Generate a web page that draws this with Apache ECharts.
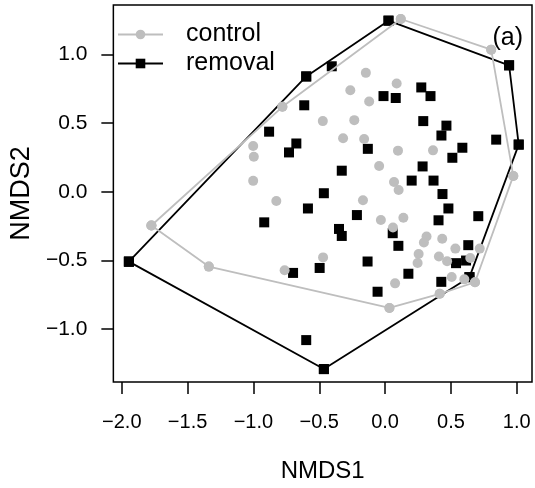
<!DOCTYPE html>
<html>
<head>
<meta charset="utf-8">
<script src="https://cdn.jsdelivr.net/npm/echarts@6/dist/echarts.min.js"></script>
<style>
  html, body { margin: 0; padding: 0; background: #fff; }
  #chart { width: 535px; height: 488px; }
</style>
</head>
<body>
<div id="chart"></div>
<script>
// NMDS scores
const controlX = [0.119, 0.806, -0.146, 0.088, -0.264, -0.121, -0.780, -0.473, -0.234, -0.319,
  -0.159, -1.002, -0.997, 0.098, 0.364, -0.045, 0.974, -1.002, 0.068, 0.103,
  -0.826, -0.168, -0.032, 0.139, 0.060, -1.775, 0.315, 0.295, 0.434, 0.534,
  0.719, -0.471, 0.255, 0.247, 0.409, 0.471, 0.647, -1.339, -0.763, 0.506,
  0.602, 0.683, 0.076, 0.415, 0.033]
const controlY = [1.258, 1.035, 0.866, 0.789, 0.739, 0.657, 0.619, 0.515, 0.522, 0.390,
  0.385, 0.334, 0.255, 0.300, 0.302, 0.188, 0.116, 0.080, 0.072, 0.014,
  -0.066, -0.061, -0.205, -0.188, -0.260, -0.245, -0.325, -0.368, -0.341, -0.413,
  -0.413, -0.477, -0.453, -0.518, -0.471, -0.505, -0.482, -0.544, -0.570, -0.620,
  -0.637, -0.658, -0.666, -0.742, -0.845]

const removalX = [0.026, 0.942, -0.405, -0.599, 0.275, 0.345, -0.012, 0.081, -0.614, -0.881,
  -0.674, -0.730, 0.290, 0.466, 0.428, 0.844, 1.015, -0.131, 0.587, 0.511,
  -0.329, 0.285, 0.202, 0.368, -0.465, 0.436, -0.586, 0.481, -0.214, 0.708,
  0.406, -0.350, -0.329, 0.058, 0.101, 0.632, -0.918, -1.946, -0.699, -0.497,
  -0.133, 0.539, 0.615, 0.177, 0.641, 0.427, -0.057, -0.599, -0.465]
const removalY = [1.246, 0.921, 0.914, 0.840, 0.760, 0.697, 0.697, 0.683, 0.630, 0.438,
  0.352, 0.287, 0.515, 0.482, 0.410, 0.380, 0.344, 0.313, 0.321, 0.248,
  0.154, 0.185, 0.082, 0.082, -0.010, -0.016, -0.121, -0.121, -0.169, -0.177,
  -0.207, -0.270, -0.321, -0.301, -0.393, -0.388, -0.222, -0.508, -0.590, -0.554,
  -0.507, -0.519, -0.500, -0.596, -0.621, -0.655, -0.727, -1.079, -1.290]

const xTicks = [-2, -1.5, -1, -0.5, 0, 0.5, 1]
const xTickLabels = ['\u22122.0', '\u22121.5', '\u22121.0', '\u22120.5', '0.0', '0.5', '1.0']
const yTicks = [-1, -0.5, 0, 0.5, 1]
const yTickLabels = ['\u22121.0', '\u22120.5', '0.0', '0.5', '1.0']

const GREY = '#bebebe'
const FONT = 'Liberation Sans, Arial, Helvetica, sans-serif'

function zip(xs, ys) { return xs.map((x, i) => [x, ys[i]]) }

// convex hull (monotone chain), closed ring
function hull(pts) {
  const p = [...pts].sort((a, b) => a[0] - b[0] || a[1] - b[1])
  const cross = (o, a, b) => (a[0] - o[0]) * (b[1] - o[1]) - (a[1] - o[1]) * (b[0] - o[0])
  const lower = [], upper = []
  for (const q of p) {
    while (lower.length >= 2 && cross(lower[lower.length - 2], lower[lower.length - 1], q) <= 0) lower.pop()
    lower.push(q)
  }
  for (let i = p.length - 1; i >= 0; i--) {
    const q = p[i]
    while (upper.length >= 2 && cross(upper[upper.length - 2], upper[upper.length - 1], q) <= 0) upper.pop()
    upper.push(q)
  }
  upper.pop(); lower.pop()
  const ring = lower.concat(upper)
  ring.push(ring[0])
  return ring
}

function tickLabel(ticks, labels) {
  return v => {
    const i = ticks.findIndex(t => Math.abs(t - v) < 1e-9)
    return i < 0 ? '' : labels[i]
  }
}

const control = zip(controlX, controlY)
const removal = zip(removalX, removalY)

const chart = echarts.init(document.getElementById('chart'))
chart.setOption({
  animation: false,
  textStyle: { fontFamily: FONT },
  grid: { left: 111, top: 5, width: 421, height: 380, show: true, borderColor: '#000', borderWidth: 1.5, backgroundColor: 'transparent' },
  legend: {
    data: ['control', 'removal'],
    orient: 'vertical', left: 117, top: 22, padding: 0,
    itemWidth: 45, itemHeight: 12, itemGap: 4,
    textStyle: { fontSize: 25, color: '#000', fontFamily: FONT, padding: [0, 0, 0, 18] }
  },
  xAxis: {
    type: 'value', min: -2.064, max: 1.116,
    name: 'NMDS1', nameLocation: 'middle', nameGap: 77,
    nameTextStyle: { fontSize: 24, color: '#000', fontFamily: FONT },
    axisLine: { show: false, onZero: false }, splitLine: { show: false },
    axisTick: { show: true, length: 12, customValues: xTicks, lineStyle: { color: '#000', width: 1.5 } },
    axisLabel: { customValues: xTicks, formatter: tickLabel(xTicks, xTickLabels), margin: 30, fontSize: 20, color: '#000', fontFamily: FONT }
  },
  yAxis: {
    type: 'value', min: -1.384, max: 1.36,
    name: 'NMDS2', nameLocation: 'middle', nameGap: 75,
    nameTextStyle: { fontSize: 27, color: '#000', fontFamily: FONT },
    axisLine: { show: false, onZero: false }, splitLine: { show: false },
    axisTick: { show: true, length: 12, customValues: yTicks, lineStyle: { color: '#000', width: 1.5 } },
    axisLabel: { customValues: yTicks, formatter: tickLabel(yTicks, yTickLabels), margin: 26, fontSize: 21, color: '#000', fontFamily: FONT }
  },
  graphic: [{
    type: 'text', right: 12, top: 26,
    style: { text: '(a)', fontSize: 25, fill: '#000', fontFamily: FONT }
  }],
  series: [
    { name: 'removal', type: 'line', data: hull(removal), symbol: 'rect', symbolSize: 10, z: 2,
      lineStyle: { color: '#000', width: 1.8 }, itemStyle: { color: '#000' } },
    { name: 'removal', type: 'scatter', data: removal, symbol: 'rect', symbolSize: 10, z: 3,
      itemStyle: { color: '#000', opacity: 1 } },
    { name: 'control', type: 'line', data: hull(control), symbol: 'circle', symbolSize: 10, z: 4,
      lineStyle: { color: GREY, width: 1.8 }, itemStyle: { color: GREY } },
    { name: 'control', type: 'scatter', data: control, symbol: 'circle', symbolSize: 10, z: 5,
      itemStyle: { color: GREY, opacity: 1 } }
  ]
})
</script>
</body>
</html>
